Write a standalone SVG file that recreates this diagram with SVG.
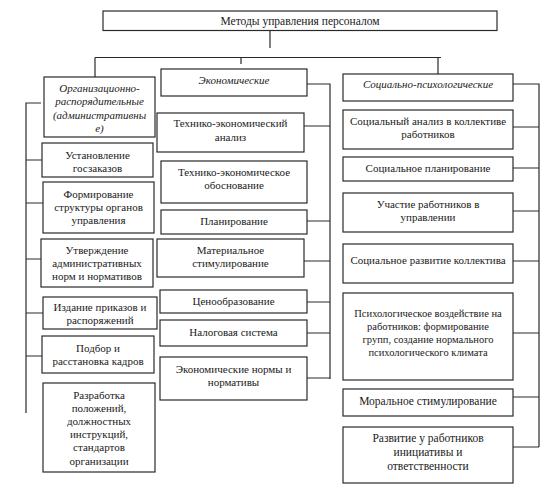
<svg xmlns="http://www.w3.org/2000/svg" width="559" height="492" viewBox="0 0 559 492">
<style>
.box{fill:#fff;stroke:#2a2a2a;stroke-width:1.2}
.t{font-family:"Liberation Serif","Times New Roman",serif;font-size:11px;text-anchor:middle;fill:#1a1a1a}
.i{font-style:italic}
.s{font-size:10.5px}
.b{font-size:11.5px}
.ln{stroke:#2a2a2a;stroke-width:1.2;fill:none}
</style>
<rect width="559" height="492" fill="#fff"/>
<g id="connectors">
<path class="ln" d="M270 30V48 M95 57.5H441 M95 57.5V78 M241 57.5V64 M438 57.5V74"/>
<path class="ln" d="M41 103H26V413 M26 160H42 M26 203H43 M26 259H41 M26 313H43 M26 356H42"/>
<path class="ln" d="M307 84H330V379 M304 126H330 M307 221H330 M304 261H330 M307 302H330 M307 333H330 M307 378H330"/>
<path class="ln" d="M513 84H539V447 M513 127H539 M513 168H539 M513 211H539 M513 261H539 M513 333H539 M513 397H539 M513 447H539"/>
</g>
<g id="root"><rect class="box" x="103" y="11" width="394" height="19.5"/><text class="t b" x="300" y="24.5">Методы управления персоналом</text></g>
<g id="org"><rect class="box" x="44" y="77" width="111" height="60"/><text class="t i" x="99.5" y="92">Организационно-</text><text class="t i" x="99.5" y="105">распорядительные</text><text class="t i" x="99.5" y="118.5">(административны</text><text class="t i" x="99.5" y="132">е)</text></g>
<g id="org1"><rect class="box" x="42" y="143" width="111" height="34"/><text class="t" x="97.5" y="158.5">Установление</text><text class="t" x="97.5" y="171.5">госзаказов</text></g>
<g id="org2"><rect class="box" x="43" y="182" width="111" height="51"/><text class="t" x="98.5" y="197.5">Формирование</text><text class="t" x="98.5" y="210.5">структуры органов</text><text class="t" x="98.5" y="223.5">управления</text></g>
<g id="org3"><rect class="box" x="41" y="239" width="112" height="48"/><text class="t" x="97" y="253.5">Утверждение</text><text class="t" x="97" y="266.5">административных</text><text class="t" x="97" y="280">норм и нормативов</text></g>
<g id="org4"><rect class="box" x="43" y="297" width="114" height="32"/><text class="t" x="100" y="310.5">Издание приказов и</text><text class="t" x="100" y="324">распоряжений</text></g>
<g id="org5"><rect class="box" x="42" y="336" width="112" height="37"/><text class="t" x="98" y="351.5">Подбор и</text><text class="t" x="98" y="364.5">расстановка кадров</text></g>
<g id="org6"><rect class="box" x="43" y="383" width="112" height="89"/><text class="t" x="99" y="398.5">Разработка</text><text class="t" x="99" y="411.5">положений,</text><text class="t" x="99" y="424.5">должностных</text><text class="t" x="99" y="437.5">инструкций,</text><text class="t" x="99" y="451">стандартов</text><text class="t" x="99" y="465">организации</text></g>
<g id="eco"><rect class="box" x="161" y="69" width="146" height="27"/><text class="t i" x="234" y="84">Экономические</text></g>
<g id="eco1"><rect class="box" x="157" y="113" width="147" height="39"/><text class="t" x="230.5" y="127">Технико-экономический</text><text class="t" x="230.5" y="140.5">анализ</text></g>
<g id="eco2"><rect class="box" x="161" y="161" width="146" height="42"/><text class="t" x="234" y="175.5">Технико-экономическое</text><text class="t" x="234" y="188.5">обоснование</text></g>
<g id="eco3"><rect class="box" x="161" y="210" width="146" height="24"/><text class="t" x="234" y="224.5">Планирование</text></g>
<g id="eco4"><rect class="box" x="157" y="239" width="147" height="38"/><text class="t" x="230.5" y="253.5">Материальное</text><text class="t" x="230.5" y="266.5">стимулирование</text></g>
<g id="eco5"><rect class="box" x="160" y="290" width="147" height="23"/><text class="t" x="233.5" y="304.5">Ценообразование</text></g>
<g id="eco6"><rect class="box" x="160" y="320" width="147" height="26"/><text class="t" x="233.5" y="335.5">Налоговая система</text></g>
<g id="eco7"><rect class="box" x="160" y="357" width="147" height="43"/><text class="t" x="233.5" y="372.5">Экономические нормы и</text><text class="t" x="233.5" y="385.5">нормативы</text></g>
<g id="soc"><rect class="box" x="343" y="74" width="170" height="27"/><text class="t i" x="428" y="88">Социально-психологические</text></g>
<g id="soc1"><rect class="box" x="343" y="110" width="170" height="39"/><text class="t" x="428" y="124.5">Социальный анализ в коллективе</text><text class="t" x="428" y="137.5">работников</text></g>
<g id="soc2"><rect class="box" x="343" y="157" width="170" height="24"/><text class="t" x="428" y="171.5">Социальное планирование</text></g>
<g id="soc3"><rect class="box" x="343" y="193" width="170" height="39"/><text class="t" x="428" y="207.5">Участие работников в</text><text class="t" x="428" y="220.5">управлении</text></g>
<g id="soc4"><rect class="box" x="343" y="244" width="170" height="39"/><text class="t" x="428" y="263.5">Социальное развитие коллектива</text></g>
<g id="soc5"><rect class="box" x="343" y="293" width="170" height="87"/><text class="t s" x="428" y="316.5">Психологическое воздействие на</text><text class="t s" x="428" y="329.5">работников: формирование</text><text class="t s" x="428" y="342.5">групп, создание нормального</text><text class="t s" x="428" y="355.5">психологического климата</text></g>
<g id="soc6"><rect class="box" x="343" y="389" width="170" height="27"/><text class="t b" x="428" y="405">Моральное стимулирование</text></g>
<g id="soc7"><rect class="box" x="343" y="427" width="170" height="56"/><text class="t b" x="428" y="442">Развитие у работников</text><text class="t b" x="428" y="456">инициативы и</text><text class="t b" x="428" y="470">ответственности</text></g>
</svg>
